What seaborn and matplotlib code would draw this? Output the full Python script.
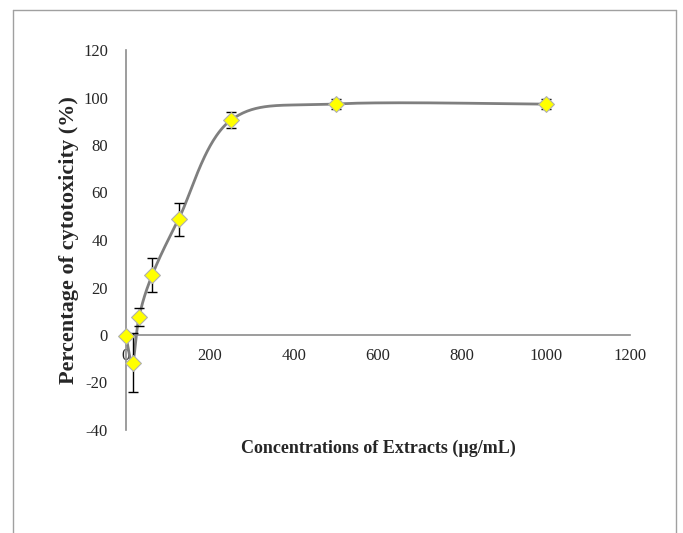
import matplotlib
matplotlib.use("Agg")
import matplotlib.pyplot as plt
from matplotlib.lines import Line2D
import numpy as np
import seaborn as sns

# concentration (ug/mL), cytotoxicity (%), error
conc = [0, 15.6, 31.25, 62.5, 125, 250, 500, 1000]
cyto = [-0.5, -11.7, 7.7, 25.3, 48.7, 90.5, 97.3, 97.2]
err = [0.0, 12.5, 3.7, 7.2, 7.0, 3.4, 2.2, 2.1]

x_ticks = [0, 200, 400, 600, 800, 1000, 1200]
y_ticks = [-40, -20, 0, 20, 40, 60, 80, 100, 120]


def excel_smooth(xs, ys, n=60):
    # Excel style smoothed line: cubic bezier, control points from neighbours
    px = np.array(xs, float)
    py = np.array(ys, float)
    out_x, out_y = [], []
    t = np.linspace(0, 1, n)
    for i in range(len(px) - 1):
        i0 = max(i - 1, 0)
        i3 = min(i + 2, len(px) - 1)
        c1 = (px[i] + (px[i + 1] - px[i0]) / 6, py[i] + (py[i + 1] - py[i0]) / 6)
        c2 = (px[i + 1] - (px[i3] - px[i]) / 6, py[i + 1] - (py[i3] - py[i]) / 6)
        bx = ((1 - t) ** 3 * px[i] + 3 * (1 - t) ** 2 * t * c1[0]
              + 3 * (1 - t) * t ** 2 * c2[0] + t ** 3 * px[i + 1])
        by = ((1 - t) ** 3 * py[i] + 3 * (1 - t) ** 2 * t * c1[1]
              + 3 * (1 - t) * t ** 2 * c2[1] + t ** 3 * py[i + 1])
        out_x.extend(bx)
        out_y.extend(by)
    return out_x, out_y


sns.set_style("white")
plt.rcParams['font.family'] = ['Liberation Serif', 'DejaVu Serif']
plt.rcParams['axes.unicode_minus'] = False

fig = plt.figure(figsize=(6.83, 5.33), dpi=100)
ax = fig.add_axes([126 / 683, 1 - 430 / 533, 504 / 683, 380 / 533])

sx, sy = excel_smooth(conc, cyto)
ax.plot(sx, sy, color="#7f7f7f", lw=2.0, zorder=2, solid_capstyle="round",
        clip_on=False)

ax.errorbar(conc, cyto, yerr=err, fmt="none", ecolor="black", elinewidth=1.0,
            capsize=3.5, capthick=1.0, zorder=3, clip_on=False)
pts = sns.scatterplot(x=conc, y=cyto, marker="D", s=65, color="#ffff00",
                      edgecolor="#b0b0b0", linewidth=0.8, zorder=4, ax=ax)
for coll in ax.collections:
    coll.set_clip_on(False)

ax.set_xlim(0, 1200)
ax.set_ylim(-40, 120)
ax.set_xticks(x_ticks)
ax.set_yticks(y_ticks)

for side in ["top", "right"]:
    ax.spines[side].set_visible(False)
ax.spines["bottom"].set_position(("data", 0))
ax.spines["left"].set_color("#8c8c8c")
ax.spines["bottom"].set_color("#8c8c8c")
ax.spines["left"].set_linewidth(1.2)
ax.spines["bottom"].set_linewidth(1.2)
ax.tick_params(axis="both", length=0, labelsize=12)
ax.tick_params(axis="y", pad=13)
ax.tick_params(axis="x", pad=9)

ax.set_ylabel("Percentage of cytotoxicity (%)", fontsize=16, fontweight="bold")
ax.set_xlabel("Concentrations of Extracts (\u00b5g/mL)", fontsize=13,
              fontweight="bold")
ax.xaxis.set_label_coords(0.5, -0.025)
ax.yaxis.set_label_coords(-0.093, 0.5)

# outer chart frame
frame_kw = dict(transform=fig.transFigure, color="#a0a0a0", lw=1.0)
fig.add_artist(Line2D([13 / 683, 13 / 683], [0, 1 - 10 / 533], **frame_kw))
fig.add_artist(Line2D([676 / 683, 676 / 683], [0, 1 - 10 / 533], **frame_kw))
fig.add_artist(Line2D([13 / 683, 676 / 683], [1 - 10 / 533, 1 - 10 / 533], **frame_kw))

fig.savefig("out.png", dpi=100)
